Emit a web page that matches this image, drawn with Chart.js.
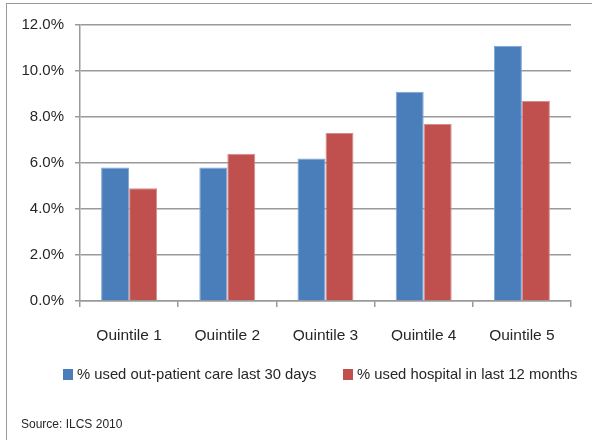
<!DOCTYPE html>
<html>
<head>
<meta charset="utf-8">
<script src="https://cdn.jsdelivr.net/npm/chart.js@4/dist/chart.umd.min.js"></script>
<style>
  html, body { margin: 0; padding: 0; background: #fff; }
  #wrap { position: relative; width: 592px; height: 440px; overflow: hidden; font-family: 'Liberation Sans Narrow', 'Liberation Sans', sans-serif; color: #262626; }
  #frame { position: absolute; left: 6px; top: 3px; width: 600px; height: 450px; border-left: 1.5px solid #9a9a9a; border-top: 1.5px solid #9a9a9a; }
  canvas { position: absolute; left: 0; top: 0; }
  .legend { position: absolute; top: 365px; font-size: 14.8px; white-space: nowrap; line-height: 18px; }
  .legend i { display: inline-block; width: 10px; height: 11px; margin-right: 4px; vertical-align: -1px; }
  #source { position: absolute; left: 21px; top: 417px; font-size: 12px; }
</style>
</head>
<body>
<div id="wrap">
  <div id="frame"></div>
  <canvas id="chart" width="592" height="440"></canvas>
  <div class="legend" id="leg0" style="left:63px"><i style="background:#4A7EBB"></i><span></span></div>
  <div class="legend" id="leg1" style="left:343px"><i style="background:#C0504D"></i><span></span></div>
  <div id="source">Source: ILCS 2010</div>
</div>
<script>
// Households by wealth quintile, share using health services (%)
const categories = ['Quintile 1', 'Quintile 2', 'Quintile 3', 'Quintile 4', 'Quintile 5'];
const seriesNames = ['% used out-patient care last 30 days', '% used hospital in last 12 months'];
const outPatient = [5.8, 5.8, 6.2, 9.1, 11.1];
const hospital = [4.9, 6.4, 7.3, 7.7, 8.7];
const yTicks = [0, 2, 4, 6, 8, 10, 12];

const FONT = "'Liberation Sans Narrow', 'Liberation Sans', sans-serif";
const GRID = '#9a9a9a';

document.querySelector('#leg0 span').textContent = seriesNames[0];
document.querySelector('#leg1 span').textContent = seriesNames[1];

new Chart(document.getElementById('chart'), {
  type: 'bar',
  data: {
    labels: categories,
    datasets: [
      { label: seriesNames[0], data: outPatient, backgroundColor: '#4A7EBB', borderColor: '#7FA6D6', borderWidth: { top: 1, left: 1, right: 1, bottom: 0 } },
      { label: seriesNames[1], data: hospital, backgroundColor: '#C0504D', borderColor: '#D98C8A', borderWidth: { top: 1, left: 1, right: 1, bottom: 0 } }
    ]
  },
  options: {
    responsive: false,
    animation: false,
    events: [],
    layout: { padding: { left: 7, right: 21, top: 25, bottom: 99 } },
    datasets: { bar: { categoryPercentage: 0.57, barPercentage: 1.0 } },
    plugins: { legend: { display: false }, tooltip: { enabled: false } },
    scales: {
      x: {
        grid: { display: true, drawOnChartArea: false, drawTicks: true, tickLength: 6, color: GRID, lineWidth: 1.5 },
        border: { display: true, color: GRID, width: 1.5 },
        ticks: { color: '#262626', font: { family: FONT, size: 15.5 }, padding: 19 },
        afterFit: s => { s.height = 40; }
      },
      y: {
        min: 0, max: 12,
        afterBuildTicks: s => { s.ticks = yTicks.map(v => ({ value: v })); },
        grid: { color: GRID, lineWidth: 1.5, tickLength: 5, drawTicks: true },
        border: { display: true, color: GRID, width: 1.5 },
        ticks: { color: '#262626', font: { family: FONT, size: 15 }, padding: 11, callback: v => v.toFixed(1) + '%' },
        afterFit: s => { s.width = 73; }
      }
    }
  }
});
</script>
</body>
</html>
